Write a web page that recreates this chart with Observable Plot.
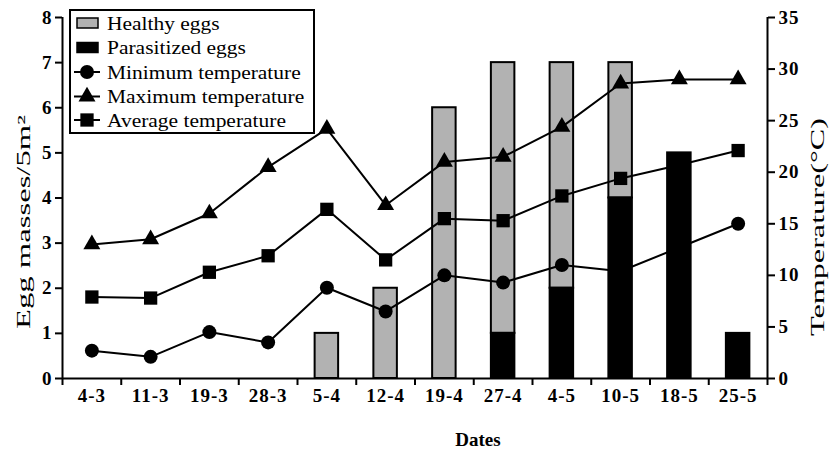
<!DOCTYPE html>
<html><head><meta charset="utf-8">
<script src="https://cdn.jsdelivr.net/npm/d3@7"></script>
<script src="https://cdn.jsdelivr.net/npm/@observablehq/plot@0.6"></script>
<style>
body{margin:0;background:#fff}
#chart{width:838px;height:450px}
</style>
</head><body><div id="chart"></div>
<script>
const dates = ["4-3","11-3","19-3","28-3","5-4","12-4","19-4","27-4","4-5","10-5","18-5","25-5"];
const healthyEggs = [0,0,0,0,1,2,6,6,5,3,0,0];
const parasitizedEggs = [0,0,0,0,0,0,0,1,2,4,5,1];
const minTemp = [2.7,2.1,4.5,3.5,8.8,6.5,10.0,9.3,11.0,10.4,12.7,15.0];
const maxTemp = [13.0,13.5,16.0,20.5,24.2,16.8,21.0,21.5,24.4,28.6,29.0,29.0];
const avgTemp = [7.9,7.8,10.3,11.9,16.4,11.5,15.5,15.3,17.7,19.4,20.7,22.1];
const eggTicks = [0,1,2,3,4,5,6,7,8];
const tempTicks = [0,5,10,15,20,25,30,35];

const GRAY = "#b2b2b2";
const k = 8 / 35; // temperature -> egg axis
const hw = 0.2;
const cx = i => i + 0.5;

const bars = dates.map((d, i) => ({i, d, healthy: healthyEggs[i], paras: parasitizedEggs[i]}));
const temps = (arr) => arr.map((t, i) => ({i, t}));

const lineOpts = {x: d => cx(d.i), y: d => d.t * k, stroke: "black", strokeWidth: 2};

const plot = Plot.plot({
  width: 838, height: 450,
  marginLeft: 62, marginRight: 71, marginTop: 17, marginBottom: 72,
  x: {type: "linear", domain: [0, dates.length], axis: null},
  y: {domain: [0, 8], axis: null},
  style: {fontFamily: "'Liberation Serif', serif", fontSize: "19px", fontWeight: "bold", color: "black", background: "white", letterSpacing: "1px"},
  marks: [
    Plot.rectY(bars.filter(b => b.healthy > 0), {
      x1: b => cx(b.i) - hw, x2: b => cx(b.i) + hw,
      y1: b => b.paras, y2: b => b.paras + b.healthy,
      fill: GRAY, stroke: "black", strokeWidth: 2
    }),
    Plot.rectY(bars.filter(b => b.paras > 0), {
      x1: b => cx(b.i) - hw, x2: b => cx(b.i) + hw,
      y1: 0, y2: b => b.paras,
      fill: "black", stroke: "black", strokeWidth: 2
    }),
    Plot.line(temps(maxTemp), lineOpts),
    Plot.line(temps(avgTemp), lineOpts),
    Plot.line(temps(minTemp), lineOpts),
    Plot.dot(temps(minTemp), {x: d => cx(d.i), y: d => d.t * k, symbol: "circle", r: 7, fill: "black"}),
    Plot.dot(temps(maxTemp), {x: d => cx(d.i), y: d => d.t * k, symbol: "triangle", r: 6.3, fill: "black"}),
    Plot.dot(temps(avgTemp), {x: d => cx(d.i), y: d => d.t * k, symbol: "square", r: 7.5, fill: "black"}),
    Plot.ruleX([0, dates.length], {y1: 0, y2: 8, stroke: "black", strokeWidth: 2}),
    Plot.ruleY([0], {x1: 0, x2: dates.length, stroke: "black", strokeWidth: 2}),
    Plot.axisY({ticks: eggTicks, anchor: "left", tickSize: 7, tickPadding: 3, strokeWidth: 2, label: null, tickFormat: d => String(d)}),
    Plot.axisY({ticks: tempTicks.map(t => t * k), anchor: "right", tickSize: 7, tickPadding: 4, strokeWidth: 2, label: null, tickFormat: v => String(Math.round(v / k))}),
    Plot.axisX({ticks: d3.range(dates.length + 1), tickSize: 7, strokeWidth: 2, label: null, tickFormat: () => ""}),
    Plot.axisX({ticks: dates.map((d, i) => cx(i)), tickSize: 0, tickPadding: 10, label: null, tickFormat: v => dates[Math.floor(v)]})
  ]
});
document.getElementById("chart").appendChild(plot);

const svg = d3.select(plot);
const serif = "'Liberation Serif', serif";

// Axis titles
svg.append("text")
  .attr("transform", "translate(30,222) rotate(-90)")
  .attr("text-anchor", "middle")
  .attr("font-family", serif).attr("font-size", 18).attr("font-weight", "normal")
  .style("letter-spacing", "0px")
  .attr("textLength", 214).attr("lengthAdjust", "spacingAndGlyphs")
  .attr("fill", "black")
  .text("Egg masses/5m²");
svg.append("text")
  .attr("transform", "translate(824,227) rotate(-90)")
  .attr("text-anchor", "middle")
  .attr("font-family", serif).attr("font-size", 18).attr("font-weight", "normal")
  .style("letter-spacing", "0px")
  .attr("textLength", 218).attr("lengthAdjust", "spacingAndGlyphs")
  .attr("fill", "black")
  .text("Temperature(°C)");
svg.append("text")
  .attr("x", 478).attr("y", 446)
  .attr("text-anchor", "middle")
  .attr("font-family", serif).attr("font-size", 19).attr("font-weight", "bold")
  .style("letter-spacing", "0px")
  .attr("fill", "black")
  .text("Dates");

// Legend
const lg = svg.append("g");
lg.append("rect").attr("x", 70).attr("y", 10).attr("width", 244).attr("height", 123)
  .attr("fill", "white").attr("stroke", "black").attr("stroke-width", 2);
const rows = [
  {label: "Healthy eggs", kind: "gray"},
  {label: "Parasitized eggs", kind: "black"},
  {label: "Minimum temperature", kind: "circle"},
  {label: "Maximum temperature", kind: "triangle"},
  {label: "Average temperature", kind: "square"}
];
const rowY = [23, 47.5, 72, 96.5, 120];
const symArea = {circle: Math.PI * 7 * 7, triangle: Math.PI * 6.3 * 6.3, square: Math.PI * 7.5 * 7.5};
const symType = {circle: d3.symbolCircle, triangle: d3.symbolTriangle, square: d3.symbolSquare};
rows.forEach((r, j) => {
  const y = rowY[j];
  if (r.kind === "gray" || r.kind === "black") {
    lg.append("rect").attr("x", 77).attr("y", y - 5).attr("width", 21).attr("height", 10)
      .attr("fill", r.kind === "gray" ? GRAY : "black").attr("stroke", "black").attr("stroke-width", 1.5);
  } else {
    lg.append("line").attr("x1", 74).attr("x2", 100).attr("y1", y).attr("y2", y)
      .attr("stroke", "black").attr("stroke-width", 2);
    lg.append("path").attr("transform", `translate(87,${y})`)
      .attr("d", d3.symbol(symType[r.kind], symArea[r.kind])())
      .attr("fill", "black");
  }
  lg.append("text")
    .attr("transform", `translate(107,${y + 6.5}) scale(1.13,1)`)
    .attr("text-anchor", "start")
    .attr("font-family", serif).attr("font-size", 19).attr("font-weight", "normal")
    .style("letter-spacing", "0px")
    .attr("fill", "black")
    .text(r.label);
});
</script>
</body></html>
